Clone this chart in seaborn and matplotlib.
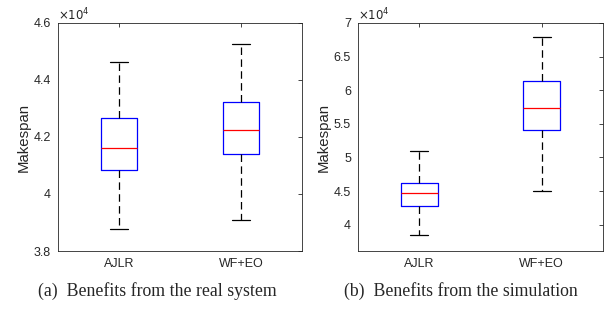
import numpy as np
import pandas as pd
import matplotlib
matplotlib.use("Agg")
import matplotlib.pyplot as plt
import seaborn as sns
from matplotlib.ticker import FuncFormatter

# 方法名称
methods = ["AJLR", "WF+EO"]

# 五数概括: [下须, Q1, 中位数, Q3, 上须]
real_ajlr = [38770, 40840, 41610, 42680, 44630]
real_wfeo = [39080, 41420, 42240, 43230, 45270]
sim_ajlr = [38420, 42770, 44700, 46280, 50990]
sim_wfeo = [45000, 54110, 57380, 61430, 67920]

real_ticks = [38000, 40000, 42000, 44000, 46000]
sim_ticks = [40000, 45000, 50000, 55000, 60000, 65000, 70000]

captions = ["(a)  Benefits from the real system", "(b)  Benefits from the simulation"]

sns.set_style("white")
plt.rcParams['font.family'] = ['Liberation Sans', 'DejaVu Sans']

GREY = "#262626"


def make_df(a, b):
    return pd.DataFrame({
        "Method": [methods[0]] * len(a) + [methods[1]] * len(b),
        "Makespan": a + b,
    })


def draw_panel(ax, df, ticks, ylim):
    sns.boxplot(data=df, x="Method", y="Makespan", ax=ax,
                whis=(0, 100), width=0.3, fill=False, showfliers=False,
                linewidth=0.9,
                boxprops=dict(color="blue"),
                medianprops=dict(color="red"),
                whiskerprops=dict(color="black", linestyle=(0, (6, 3.5))),
                capprops=dict(color="black"))
    ax.set_ylim(*ylim)
    ax.set_xlim(-0.5, 1.5)
    ax.set_yticks(ticks)
    ax.yaxis.set_major_formatter(FuncFormatter(lambda v, p: f"{v / 1e4:g}"))
    ax.set_xlabel("")
    ax.set_ylabel("Makespan", fontsize=10.8, color=GREY, labelpad=2)
    ax.tick_params(direction="in", length=3, width=0.6, labelsize=9,
                   colors=GREY, top=True, right=True, pad=5)
    for s in ax.spines.values():
        s.set_visible(True)
        s.set_color(GREY)
        s.set_linewidth(0.6)
    ax.text(0.0, 1.012, r"$\times10^{4}$", transform=ax.transAxes,
            fontsize=8.5, color=GREY, ha="left", va="baseline")


fig = plt.figure(figsize=(6.05, 3.09), dpi=100)
ax1 = fig.add_axes([0.0959, 0.1877, 0.403, 0.738])
ax2 = fig.add_axes([0.5917, 0.1877, 0.405, 0.738])

draw_panel(ax1, make_df(real_ajlr, real_wfeo), real_ticks, (38000, 46000))
draw_panel(ax2, make_df(sim_ajlr, sim_wfeo), sim_ticks, (36100, 70000))

fig.text(157 / 605, 1 - 291 / 309, captions[0], ha="center", va="center",
         fontsize=12.8, family=["Liberation Serif", "DejaVu Serif"])
fig.text(461 / 605, 1 - 291 / 309, captions[1], ha="center", va="center",
         fontsize=12.8, family=["Liberation Serif", "DejaVu Serif"])

fig.savefig("out.png", dpi=100)
